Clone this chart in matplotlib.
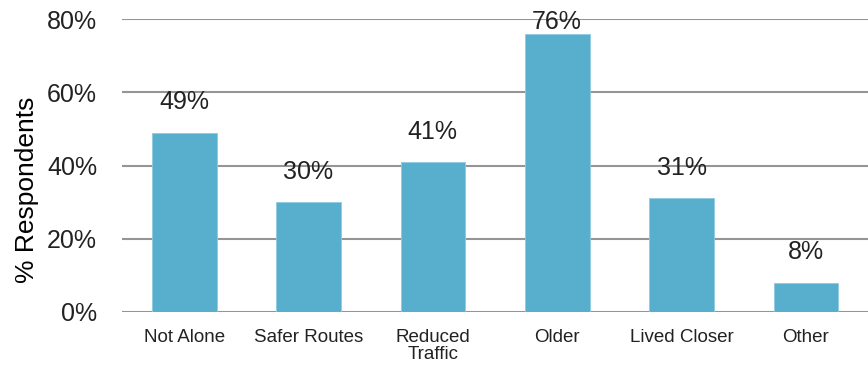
import numpy as np
import matplotlib.pyplot as plt

plt.rcParams['font.family'] = ['Liberation Sans', 'DejaVu Sans']

categories = ['Not Alone', 'Safer Routes', 'Reduced\nTraffic', 'Older', 'Lived Closer', 'Other']
values = [49, 30, 41, 76, 31, 8]
yticks = [0, 20, 40, 60, 80]

bar_color = '#57afcd'
text_color = '#222222'

fig = plt.figure(figsize=(8.68, 3.67), dpi=100)
ax = fig.add_axes([0.1406, 0.150, 0.8594, 0.798])

x = np.arange(len(categories))
ax.bar(x, values, width=0.52, color=bar_color, edgecolor='#8fcbe0', linewidth=0.6, zorder=3)

# value labels above bars, kept inside the plot top
for xi, v in zip(x, values):
    ax.text(xi, min(v + 5.0, 75.8), f'{v}%', ha='center', va='bottom',
            fontsize=18, color=text_color, zorder=4)

ax.set_xlim(-0.5, len(categories) - 0.5)
ax.set_ylim(0, 80)
ax.set_yticks(yticks)
ax.set_yticklabels([f'{t}%' for t in yticks])
ax.yaxis.grid(True, color='#959595', linewidth=1.5, zorder=0)
ax.set_axisbelow(True)

ax.set_xticks(x)
ax.set_xticklabels(categories, fontsize=13.5, color=text_color, linespacing=1.05)
ax.tick_params(axis='x', length=0, pad=12)
ax.tick_params(axis='y', length=0, pad=18, labelsize=18, labelcolor=text_color)
for s in ax.spines.values():
    s.set_visible(False)

ax.set_ylabel('% Respondents', fontsize=19, color='black')
ax.yaxis.set_label_coords(-0.111, 0.416)

plt.savefig('out.png', dpi=100)
